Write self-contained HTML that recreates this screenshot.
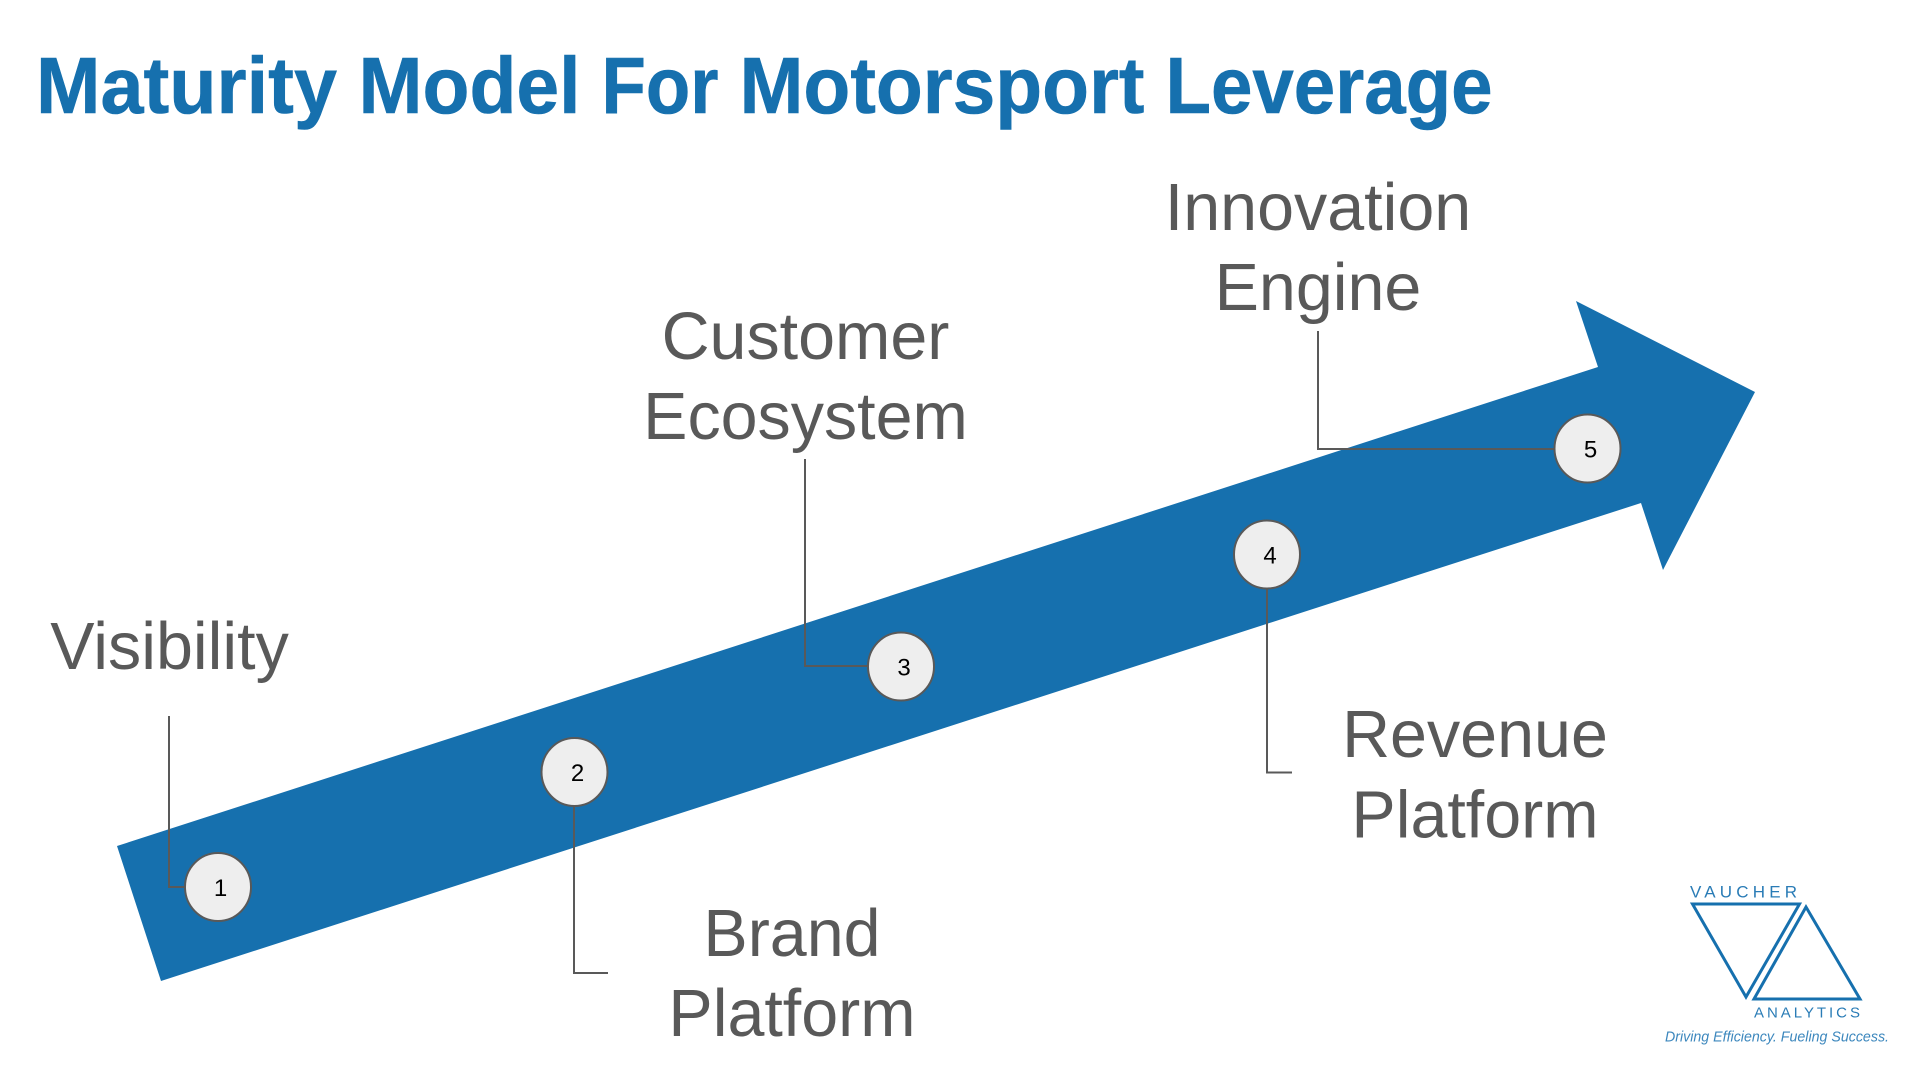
<!DOCTYPE html>
<html><head><meta charset="utf-8"><style>
html,body{margin:0;padding:0;background:#fff}
svg{display:block}
text{font-family:"Liberation Sans",sans-serif}
.t{font-size:80px;font-weight:700;fill:#1670ae;stroke:#1670ae;stroke-width:.6}
.l{font-size:66.4px;fill:#595959;text-anchor:middle}
.n{font-size:24px;fill:#000;text-anchor:middle}
.c{fill:#eee;stroke:#595959;stroke-width:2}
.w{fill:none;stroke:#595959;stroke-width:2}
</style></head><body>
<svg width="1919" height="1079" viewBox="0 0 1919 1079" xmlns="http://www.w3.org/2000/svg">
<rect width="1919" height="1079" fill="#fff"/>
<text class="t" x="36" y="113" textLength="301" lengthAdjust="spacingAndGlyphs">Maturity</text>
<text class="t" x="358.5" y="113" textLength="222" lengthAdjust="spacingAndGlyphs">Model</text>
<text class="t" x="601.5" y="113" textLength="117" lengthAdjust="spacingAndGlyphs">For</text>
<text class="t" x="739.5" y="113" textLength="405" lengthAdjust="spacingAndGlyphs">Motorsport</text>
<text class="t" x="1165.5" y="113" textLength="327" lengthAdjust="spacingAndGlyphs">Leverage</text>
<polygon points="117,846 1598,367 1576,301 1755,392 1663,570 1641,503 161,981" fill="#1670ae"/>
<path class="w" d="M169 716V887H190"/>
<path class="w" d="M574 800V973H608"/>
<path class="w" d="M805 459V666H875"/>
<path class="w" d="M1267 585V772.5H1292"/>
<path class="w" d="M1318 331V449H1560"/>
<ellipse class="c" cx="218" cy="887" rx="33" ry="34"/><text class="n" x="220.5" y="896">1</text>
<ellipse class="c" cx="574.5" cy="772" rx="33" ry="34"/><text class="n" x="577.5" y="781">2</text>
<ellipse class="c" cx="901" cy="666.5" rx="33" ry="34"/><text class="n" x="904" y="675.5">3</text>
<ellipse class="c" cx="1267" cy="554.5" rx="33" ry="34"/><text class="n" x="1270" y="563.5">4</text>
<ellipse class="c" cx="1587.5" cy="448.5" rx="33" ry="34"/><text class="n" x="1590.5" y="457.5">5</text>
<text class="l" x="169.5" y="669">Visibility</text>
<text class="l" x="792" y="956">Brand</text><text class="l" x="792" y="1036">Platform</text>
<text class="l" x="805.5" y="359">Customer</text><text class="l" x="805.5" y="439">Ecosystem</text>
<text class="l" x="1475" y="757">Revenue</text><text class="l" x="1475" y="837.5">Platform</text>
<text class="l" x="1318" y="230">Innovation</text><text class="l" x="1318" y="310">Engine</text>
<text x="1690" y="897.5" font-size="17" fill="#2a7cb6" textLength="107">VAUCHER</text>
<polygon points="1692.5,904 1799.5,904 1746,997" fill="none" stroke="#1670ae" stroke-width="3"/>
<polygon points="1806,907 1860,999 1754,999" fill="none" stroke="#1670ae" stroke-width="3"/>
<text x="1754" y="1017.5" font-size="15" fill="#2a7cb6" textLength="106">ANALYTICS</text>
<text x="1665" y="1041.5" font-size="15" font-style="italic" fill="#3c87bd" textLength="224" lengthAdjust="spacingAndGlyphs">Driving Efficiency. Fueling Success.</text>
</svg>
</body></html>
